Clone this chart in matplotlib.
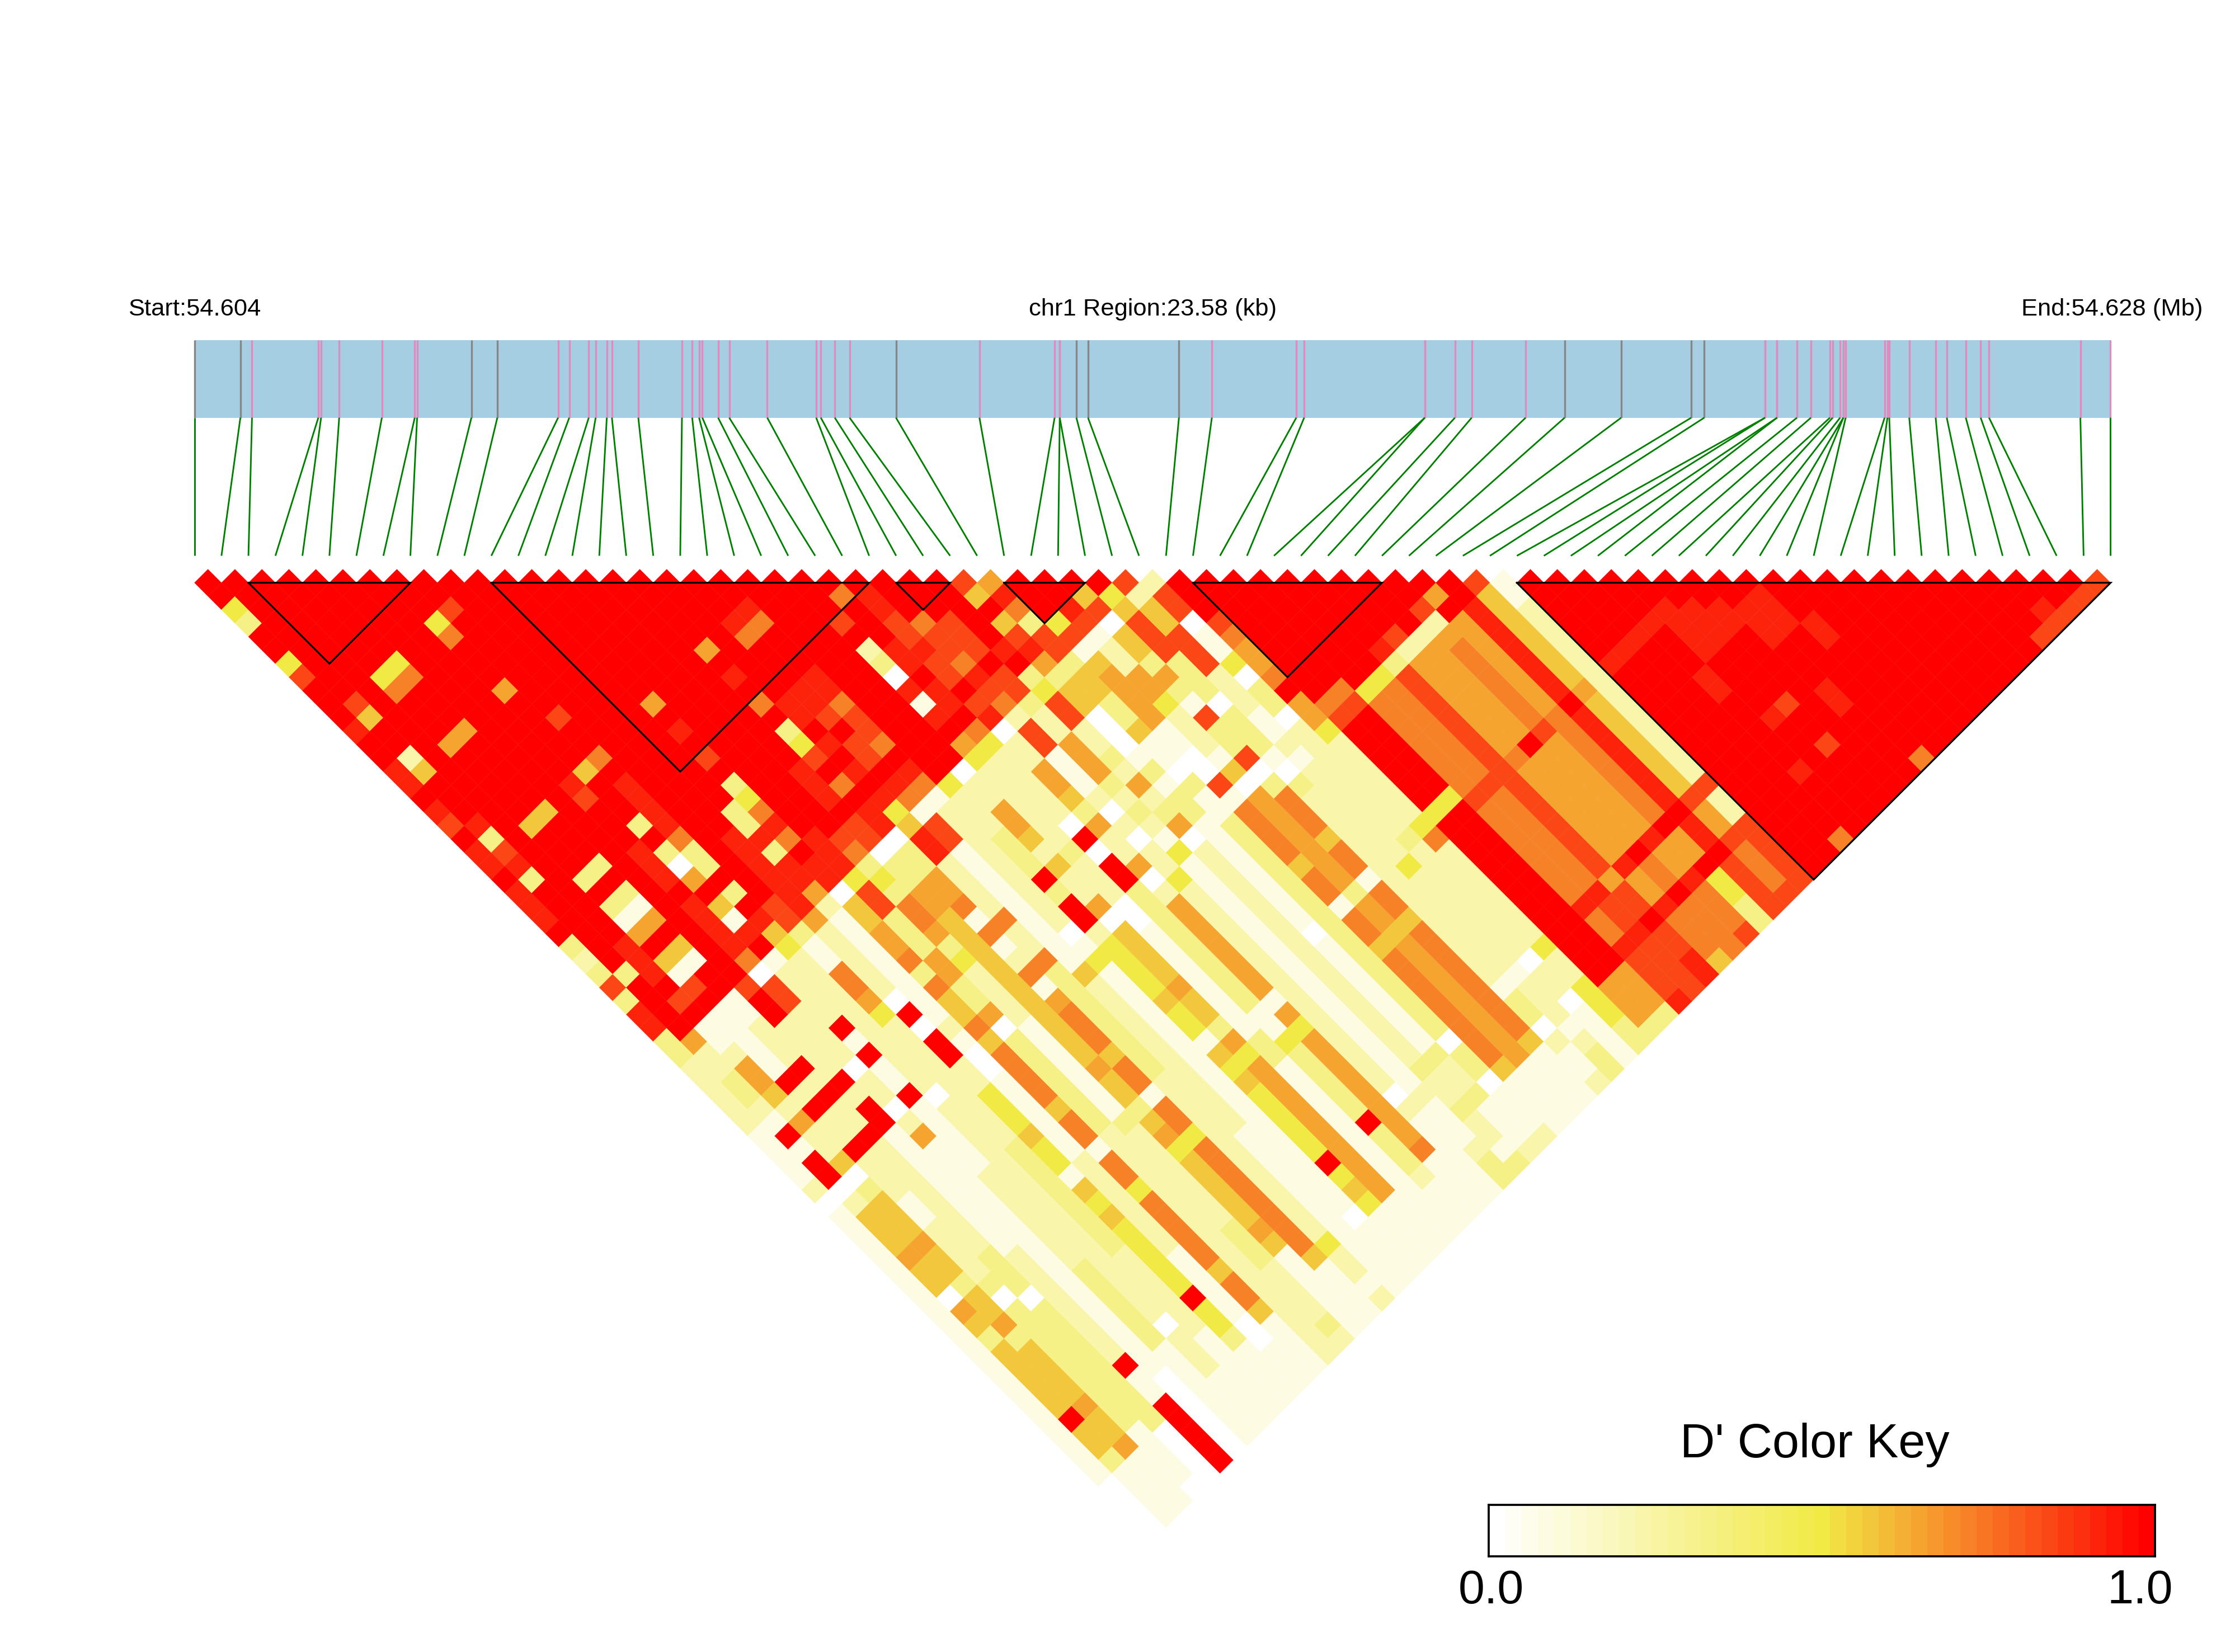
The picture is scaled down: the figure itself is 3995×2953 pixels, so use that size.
import numpy as np
import matplotlib
matplotlib.use('Agg')
import matplotlib.pyplot as plt
from matplotlib.collections import PolyCollection, LineCollection
from matplotlib.colors import LinearSegmentedColormap, BoundaryNorm

plt.rcParams['font.family'] = ['Liberation Sans', 'DejaVu Sans']

W, H = 3995, 2953

# snp positions, kb from region start
snp_kb = [0.000, 0.565, 0.708, 1.524, 1.558, 1.781, 2.306, 2.711, 2.740, 3.408, 3.727, 4.475,
          4.612, 4.852, 4.937, 5.074, 5.137, 5.462, 5.999, 6.125, 6.210, 6.250, 6.444, 6.581,
          7.049, 7.651, 7.708, 7.880, 8.062, 8.633, 9.660, 10.585, 10.648, 10.648, 10.853, 10.996,
          12.115, 12.520, 13.559, 13.656, 15.140, 15.140, 15.511, 15.717, 16.381, 16.861, 17.557, 18.419,
          18.579, 19.327, 19.327, 19.475, 19.475, 19.720, 19.892, 20.126, 20.160, 20.251, 20.291, 20.291,
          20.320, 20.799, 20.834, 20.856, 21.102, 21.427, 21.564, 21.798, 21.981, 22.084, 23.208, 23.579]
region_kb = 23.58
gray_snps = [0, 1, 9, 10, 29, 34, 35, 36, 45, 46, 47, 48]
ld_blocks = [(2, 8), (11, 25), (26, 28), (30, 33), (37, 44), (49, 71)]

# D' level of each code
level_values = dict(zip('0123456789R', [0, .08, .22, .33, .5, .57, .64, .72, .84, .92, 1.0]))

# one entry per snp i: runs "start_j:code" along j
row_runs = [
    "1:R 3:4 4:3 5:R 7:4 8:8 9:R 12:9 13:R 15:9 17:R 18:9 19:8 20:R 21:9 23:R 24:9 27:R 28:3 29:2 30:3 31:8 32:3 33:9 35:3 37:2 42:1 46:2 47:0 48:1 68:0",
    "2:R 11:8 12:5 13:R 15:2 16:5 17:R 20:9 21:3 22:8 23:9 24:3 25:R 31:3 32:R 36:6 37:2 39:3 41:2 42:1 43:R 44:1 45:R 47:0 48:2 49:5 52:6 53:5 55:0 56:6 57:5 58:3 59:5 64:R 65:5 67:3 68:1",
    "3:R 30:9 33:R 34:8 35:R 36:1 38:2 39:6 41:5 42:2 43:6 44:2 46:5 47:0 48:3 49:5 52:6 53:5 55:3 56:5 58:6 59:3 60:5 64:6 65:5 67:6 68:1",
    "4:R 11:4 12:7 13:R 16:6 17:R 22:5 23:R 26:3 27:R 28:3 29:1 30:6 31:R 32:5 33:1 34:8 35:R 36:1 41:R 42:2 43:R 44:2 46:R 47:2 50:1 52:2 56:3 57:0 58:3 67:1 71:0",
    "5:R 11:4 12:7 13:R 16:6 17:R 22:5 23:R 26:3 27:R 28:3 29:1 30:6 31:R 32:5 33:1 34:R 36:1 38:2 41:R 42:2 43:R 44:2 46:R 47:2 55:3 58:0 59:3 68:0",
    "6:R 36:8 37:R 39:2 43:R 44:2 45:R 47:1 56:2 64:R 65:1 67:R",
    "7:R 22:9 23:8 24:R 27:9 30:R 31:9 35:7 36:0 37:8 39:2 43:0 44:2 46:0 47:2 48:6 49:1 66:0",
    "8:R 11:4 12:7 13:R 16:6 17:R 22:5 23:R 26:3 27:R 28:3 29:0 30:6 31:R 32:5 33:1 34:9 35:R 36:1 37:2 41:R 42:1 43:R 44:1 46:R 47:1 52:2 59:3 65:1",
    "9:R 11:8 12:R 19:8 20:R 22:7 23:R 24:9 27:9 28:7 29:3 31:R 32:3 33:R 34:9 35:5 36:4 37:2 47:0 48:2 64:0 65:2 68:1",
    "10:R 34:8 36:3 37:1 39:7 41:6 42:4 43:2 52:3 60:2 66:1",
    "11:R 30:9 36:6 37:2 42:0 43:R 44:0 45:R 47:2 49:4 52:5 53:4 55:1 56:5 57:4 58:5 59:4 64:R 65:4 67:3 68:1",
    "12:R 29:3 31:9 32:3 33:9 35:6 36:2 37:1 45:2 46:1 47:0 49:1 55:2 62:1 67:0 69:1",
    "13:R 22:6 23:R 24:9 25:R 26:8 27:R 28:3 29:4 30:7 31:9 32:7 33:R 34:9 36:0 37:5 39:6 41:7 42:3 43:7 44:5 46:7 47:5 48:7 52:5 53:7 55:1 56:7 58:4 59:7 64:5 65:7 67:5 68:1",
    "14:R 33:9 36:4 37:8 39:3 42:6 44:3 46:6 47:0 48:3 55:2",
    "15:R 34:8 35:7 36:3 37:4 38:3 39:7 41:6 42:3 43:4 44:2 48:1 55:3 56:2 63:3 66:2 70:3 71:2",
    "16:R 30:9 33:R 34:8 36:0 37:3 39:6 41:5 52:6 53:5 55:3 56:5 57:6 58:4 59:5 64:6 65:5 66:1",
    "17:R 22:6 23:R 24:9 25:R 26:7 27:R 28:3 29:4 30:8 31:R 32:7 33:R 34:9 36:0 37:3 39:6 41:7 42:1 43:7 44:1 45:2 46:7 47:1 48:6 49:7 52:5 53:7 55:1 56:7 58:4 59:7 67:5 68:1",
    "18:R 27:9 29:R 30:9 31:R 32:9 33:R 34:9 35:4 36:5 37:9 39:2 43:7 44:2 46:7 47:3 48:3 55:2 67:4 68:2 70:1 71:2",
    "19:R 22:9 23:7 24:R 27:9 29:8 30:R 31:8 33:R 34:9 35:7 36:1 37:8 39:1 48:5 49:2 60:1",
    "20:R 22:9 23:7 24:R 27:9 29:7 30:8 32:7 33:R 34:9 35:7 36:1 37:2 46:0 47:1 48:4 49:1 67:0 68:1",
    "21:R 36:4 37:2 40:3 43:R 44:3 45:R 47:2 48:4 52:5 53:4 55:1 56:5 57:4 58:5 59:4 64:R 65:4 66:5 67:4 68:1",
    "22:R 36:0 37:2 39:6 41:5 42:2 43:5 44:2 46:6 47:0 48:5 52:6 53:5 55:3 56:6 57:4 58:6 68:1",
    "23:R 26:8 27:R 28:2 29:3 30:0 31:9 32:1 33:9 34:R 35:6 36:4 37:2 43:3 44:2 47:0 49:1 57:3 59:1",
    "24:R 25:7 26:R 29:9 31:R 32:9 34:R 35:7 36:4 37:2 42:0 43:R 44:0 45:R 47:3 56:1 58:4 59:3 64:R 65:3 68:2 69:1",
    "25:R 26:9 28:8 30:9 31:8 33:R 34:8 35:9 36:0 37:2 39:6 41:5 42:3 43:6 44:2 46:6 47:0 48:2 49:6 56:1 57:6 58:4 59:6 67:7 68:1",
    "26:R 29:7 30:8 32:7 33:9 34:8 35:7 36:2 37:8 39:1 42:2 43:0 44:2 45:0 46:2 48:4 49:2 64:0 65:2 66:1",
    "27:R 30:8 33:R 34:8 36:3 37:2 39:6 42:3 43:2 44:3 45:2 46:1 47:4 48:1 65:2 66:1 69:2 70:3",
    "28:R 33:9 34:R 35:3 36:4 37:8 39:2 41:3 42:2 43:6 44:2 45:3 46:6 47:0 48:2 64:3 65:2 67:3 68:2 70:1 71:3",
    "29:8 30:5 31:R 32:5 33:8 34:9 35:6 36:3 37:5 39:0 42:1 43:3 44:1 45:3 47:1 55:0 56:1 64:3 65:2 67:3 68:1 71:2",
    "30:6 31:9 32:7 33:3 34:8 36:3 37:5 39:3 41:5 42:1 44:0 45:3 46:1 48:3 64:0 65:3 67:0 68:1 71:2",
    "31:R 34:4 35:8 36:1 37:5 38:6 42:1 44:0 46:8 47:1 48:7 52:5 53:7 55:1 56:7 58:5 59:7 67:5 68:1",
    "32:R 34:9 35:8 36:1 37:2 39:6 41:4 42:2 45:1 46:5 47:0 48:6 55:3 56:6 58:5 59:6 68:1",
    "33:R 34:5 35:8 36:0 37:5 39:3 40:6 41:3 42:1 43:8 44:3 46:8 47:0 48:3 49:7 52:5 53:7 55:1 56:7 58:5 59:7 67:5 68:1",
    "34:R 35:4 36:5 37:8 40:3 43:0 44:3 47:1 48:0 49:3 50:2 64:1 65:3 67:0 68:2 69:1 71:2",
    "35:8 36:2 37:5 39:8 42:2 45:1 47:2 48:1 49:2 56:4 57:2 64:1 65:2 68:1 69:2 70:3",
    "36:2 37:8 39:0 40:1 42:4 43:0 44:3 46:0 47:2 55:3 56:2 64:0 65:2 67:0 68:1",
    "37:R 40:8 41:7 42:6 44:7 45:R 46:6 48:4 49:2 55:4 56:7 57:2 64:4 65:2 67:4 70:3",
    "38:R 47:7 48:8 49:R 55:4 56:R 68:6 71:3",
    "39:R 47:7 48:8 49:R 55:4 56:R 68:6 71:3",
    "40:R 48:4 49:7 56:8 57:7 64:9 65:7 67:9 68:8 71:9",
    "41:R 48:4 49:7 56:8 57:7 64:9 65:8 67:9 68:8",
    "42:R 47:9 48:3 49:8 64:6 65:8 67:R 68:8 70:9",
    "43:R 47:8 48:2 49:6 56:7 57:6 64:9 65:6 67:9 68:7 71:5",
    "44:R 48:2 49:6 56:R 57:6 64:R 65:7 67:R 68:7",
    "45:R 47:8 48:2 49:6 50:7 56:8 57:6 64:9 65:6 67:9 68:7 71:8",
    "46:R 47:6 48:R 49:6 56:7 64:R 65:6 67:R 68:4 70:3",
    "47:R 49:9 56:R 57:9 64:R 65:9 67:R 68:8",
    "48:8 49:5 56:6 57:5 64:8 65:6 67:8 68:7 71:8",
    "49:1 51:2 64:8 65:2 67:8",
    "50:R 56:9 57:R",
    "51:R 56:9 57:R",
    "52:R 56:9 57:R 71:7",
    "53:R 56:9 57:R 60:9 62:R 67:9 68:R",
    "54:R 56:9 60:R 64:9 65:R",
    "55:R 57:9 60:R 64:8 65:R 67:8 68:R",
    "56:R 58:9 60:R",
    "57:R 59:9 62:R 65:9 67:R",
    "58:R 59:9 62:R 71:7",
    "59:R 62:9 64:R",
    "60:R",
    "61:R",
    "62:R",
    "63:R",
    "64:R",
    "65:R",
    "66:R",
    "67:R 71:8",
    "68:R 70:9 71:8",
    "69:R 71:8",
    "70:R 71:8",
    "71:8",
]

key_levels = np.linspace(0, 1, 41)
key_labels = ['0.0', '1.0']

ld_cmap = LinearSegmentedColormap.from_list('ld', [(0, '#FFFFFF'), (0.5, '#F1EA45'), (1, '#FF0000')], N=41)
norm = BoundaryNorm(np.linspace(-0.0125, 1.0125, 42), 41)

# D' matrix from the runs
n = len(snp_kb)
dprime = np.full((n, n), np.nan)
for i, runs in enumerate(row_runs):
    for tok in runs.split():
        start, code = tok.split(':')
        dprime[i, int(start):] = level_values[code]

fig = plt.figure(figsize=(W / 300, H / 300), dpi=300)
ax = fig.add_axes([0, 0, 1, 1])
# x in snp index, y in snp distance
dx, dy = 48.24, 24.12
x0, y1 = 347.6, 1041.7
ax.set_xlim(-x0 / dx, (W - x0) / dx)
ax.set_ylim(1 + (H - y1) / dy, 1 - y1 / dy)
ax.axis('off')


def ypx(p):
    return 1 + (p - y1) / dy


polys, vals = [], []
for i in range(n):
    for j in range(i + 1, n):
        c, d = (i + j) / 2, j - i
        polys.append([(c - .5, d), (c, d - 1), (c + .5, d), (c, d + 1)])
        vals.append(dprime[i, j])
heat = PolyCollection(polys, array=np.array(vals), cmap=ld_cmap, norm=norm, edgecolors='face', linewidths=0.1)
ax.add_collection(heat)

# ld block outlines
for a, b in ld_blocks:
    ax.plot([a, b, (a + b) / 2, a], [1, 1, 1 + (b - a), 1], color='black', lw=0.75, solid_joinstyle='miter', zorder=3)

# gene bar and snp ticks
snp_x = np.array(snp_kb) / region_kb * (n - 1)
ax.fill_between([0, n - 1], ypx(607.6), ypx(746.7), color='#A6CEE3', lw=0, zorder=1)
tick_cols = ['#868686' if k in gray_snps else '#E08BBE' for k in range(n)]
ax.vlines(snp_x, ypx(607.6), ypx(746.7), colors=tick_cols, lw=0.8, zorder=2)
links = [[(snp_x[k], ypx(746.7)), (k, ypx(993.5))] for k in range(n)]
ax.add_collection(LineCollection(links, colors='#008000', linewidths=0.7))

ax.text(-x0 / dx + 229 / dx, ypx(553), 'Start:54.604', fontsize=10.45, ha='left', va='center')
ax.text((n - 1) / 2, ypx(553), 'chr1 Region:23.58 (kb)', fontsize=10.45, ha='center', va='center')
ax.text(-x0 / dx + 3937 / dx, ypx(553), 'End:54.628 (Mb)', fontsize=10.45, ha='right', va='center')

# colour key
kax = fig.add_axes([2661.4 / W, 1 - 2781.7 / H, (3852 - 2661.4) / W, (2781.7 - 2690) / H])
kax.pcolormesh(np.linspace(0, 1, 42), [0, 1], key_levels[None, :], cmap=ld_cmap, norm=norm)
kax.set_xticks([])
kax.set_yticks([])
for sp in kax.spines.values():
    sp.set_linewidth(0.9)
fig.text(3244 / W, 1 - 2605 / H, "D' Color Key", fontsize=20.7, ha='center', va='baseline')
fig.text(2665 / W, 1 - 2866 / H, key_labels[0], fontsize=20.3, ha='center', va='baseline')
fig.text(3825 / W, 1 - 2866 / H, key_labels[1], fontsize=20.3, ha='center', va='baseline')

fig.savefig('out.png', dpi=300)
